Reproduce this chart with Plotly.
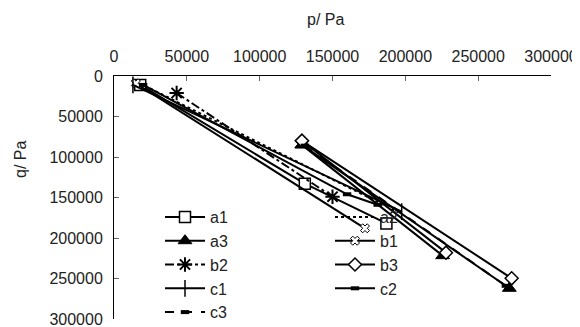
import plotly.graph_objects as go

# Data (p, q in Pa); None separates segments within one series
series_names = ["a1", "a2", "a3", "b1", "b2", "b3", "c1", "c2", "c3"]
a1_p = [18000, 131000, 187000]
a1_q = [11000, 133000, 182000]
a2_p = [21000, 195000]
a2_q = [12000, 168000]
a3_p = [129000, 225600, None, 129000, 271400]
a3_q = [85000, 221800, None, 85000, 262100]
b1_p = [15000, 172300]
b1_q = [9000, 188000]
b2_p = [43000, 150000]
b2_q = [21000, 149000]
b3_p = [129000, 227900, None, 129000, 273000]
b3_q = [80000, 218100, None, 80000, 249800]
c1_p = [13000, 197500]
c1_q = [11000, 167500]
c2_p = [20000, 160000, 181000]
c2_q = [11000, 146000, 159000]
c3_p = [131000, 269000]
c3_q = [86000, 259000]

x_ticks = [0, 50000, 100000, 150000, 200000, 250000, 300000]
y_ticks = [0, 50000, 100000, 150000, 200000, 250000, 300000]

data = {
    "a1": (a1_p, a1_q), "a2": (a2_p, a2_q), "a3": (a3_p, a3_q),
    "b1": (b1_p, b1_q), "b2": (b2_p, b2_q), "b3": (b3_p, b3_q),
    "c1": (c1_p, c1_q), "c2": (c2_p, c2_q), "c3": (c3_p, c3_q),
}

K = "black"
styles = {
    "a1": dict(dash="solid", mode="lines+markers",
               marker=dict(symbol="square", size=11, color="white", line=dict(color=K, width=1.5))),
    "a2": dict(dash="dot", mode="lines", marker=None),
    "a3": dict(dash="solid", mode="lines+markers",
               marker=dict(symbol="triangle-up", size=12, color=K, line=dict(color=K, width=1))),
    "b1": dict(dash="solid", mode="lines+markers",
               marker=dict(symbol="x", size=8, color="white", line=dict(color=K, width=1))),
    "b2": dict(dash="dashdot", mode="lines+markers",
               marker=dict(symbol="asterisk-open", size=12, color=K, line=dict(color=K, width=2))),
    "b3": dict(dash="solid", mode="lines+markers",
               marker=dict(symbol="diamond", size=10, color="white", line=dict(color=K, width=1.5))),
    "c1": dict(dash="solid", mode="lines+markers",
               marker=dict(symbol="line-ns-open", size=12, color=K, line=dict(color=K, width=1.5))),
    "c2": dict(dash="solid", mode="lines+markers",
               marker=dict(symbol="line-ew-open", size=6, color=K, line=dict(color=K, width=4))),
    "c3": dict(dash="dash", mode="lines+markers",
               marker=dict(symbol="line-ew-open", size=6, color=K, line=dict(color=K, width=4))),
}

fig = go.Figure()
for name in series_names:
    s = styles[name]
    xs, ys = data[name]
    kw = {}
    if s["marker"] is not None:
        kw["marker"] = s["marker"]
    fig.add_trace(go.Scatter(
        x=xs, y=ys, name=name, mode=s["mode"], connectgaps=False,
        line=dict(color=K, width=2, dash=s["dash"]), **kw,
    ))

# the page body adds an 8px offset; lay out in image pixels and compensate
OFF = 8
W, H = 580 - OFF, 327 - OFF
PL, PR, PT, PB = 114, 551, 76, 319          # plot area in image pixels
L, T = PL - OFF, PT - OFF
R, B = W - (PR - OFF), H - (PB - OFF)
pw, ph = W - L - R, H - T - B


def px_x(ix):
    return (ix - PL) / pw


def px_y(iy):
    return 1 - (iy - PT) / ph


fig.update_layout(
    width=W, height=H,
    margin=dict(l=L, r=R, t=T, b=B, autoexpand=False),
    paper_bgcolor="white", plot_bgcolor="white",
    font=dict(family="Liberation Sans, Arial, sans-serif", size=16, color="#222"),
    showlegend=True,
    legend=dict(
        orientation="h", x=px_x(160), y=px_y(200),
        xanchor="left", yanchor="top",
        entrywidth=115, entrywidthmode="pixels",
        bgcolor="rgba(0,0,0,0)", font=dict(size=16),
        tracegroupgap=0, itemwidth=40,
    ),
    xaxis=dict(
        side="top", range=[0, 300000], tickvals=x_ticks, tickformat="d",
        ticks="inside", ticklen=5, tickcolor="#666", tickwidth=1,
        showline=True, linecolor=K, linewidth=1,
        showgrid=False, zeroline=False, automargin=False,
        ticklabelstandoff=7, ticklabeloverflow="allow",
    ),
    yaxis=dict(
        range=[300000, 0], tickvals=y_ticks, tickformat="d",
        ticks="inside", ticklen=5, tickcolor="#666", tickwidth=1,
        showline=True, linecolor=K, linewidth=1,
        showgrid=False, zeroline=False, automargin=False,
        ticklabelstandoff=7, ticklabeloverflow="allow",
    ),
    annotations=[
        dict(text="p/ Pa", xref="paper", yref="paper",
             x=px_x(325), y=px_y(19),
             xanchor="center", yanchor="middle", showarrow=False,
             font=dict(size=16, color="#222")),
        dict(text="q/ Pa", xref="paper", yref="paper",
             x=px_x(20), y=px_y(160),
             xanchor="center", yanchor="middle", showarrow=False, textangle=-90,
             font=dict(size=16, color="#222")),
    ],
)

fig.write_html("out.html")
